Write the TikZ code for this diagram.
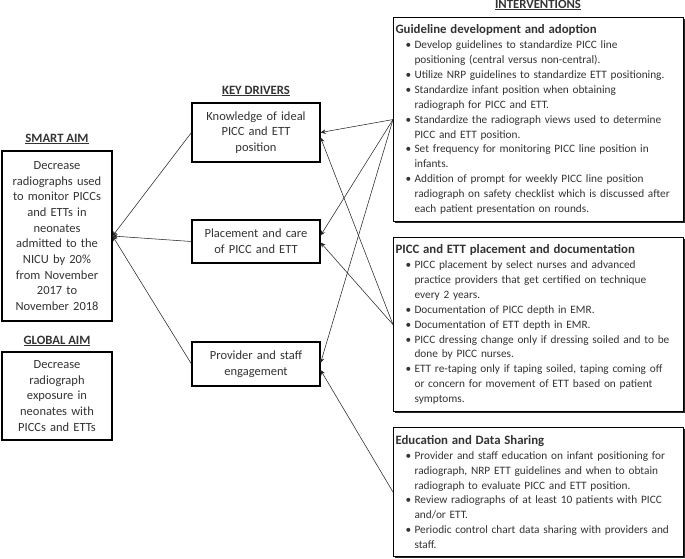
\documentclass[tikz,border=0pt]{standalone}
\usepackage{fontspec}
\setmainfont{Carlito}
\usetikzlibrary{shadows,calc,arrows.meta}
\newcommand{\bitem}[1]{\par\noindent\hangindent=19pt\hangafter=1\hspace*{10pt}\makebox[9pt][l]{\textbullet}#1}
\newcommand{\btitle}[1]{\noindent{\fontsize{12.8}{14.9}\selectfont\bfseries #1}}
\begin{document}
\begin{tikzpicture}[x=1pt,y=-1pt,
  box/.style={draw=black,line width=1.1pt,fill=white,text=black!80,
    drop shadow={shadow xshift=1.3pt,shadow yshift=-1.3pt,fill=black!85,opacity=1}},
  aimbox/.style={box,minimum width=110pt,text width=106pt,align=center,inner sep=0pt,
    font=\fontsize{12.5}{15.7}\selectfont},
  kdbox/.style={box,minimum width=128pt,text width=124pt,align=center,inner sep=0pt,
    font=\fontsize{12.5}{15.7}\selectfont},
  ivbox/.style={box,anchor=north west,text width=286pt,minimum width=290pt,inner xsep=2pt,inner ysep=6pt,
    font=\fontsize{11.3}{14.9}\selectfont},
  head/.style={text=black!80,font=\fontsize{12.7}{14}\selectfont\bfseries},
  conn/.style={draw=black!85,line width=0.55pt},
  arr/.style={conn,-{Stealth[length=5pt,width=4.5pt]}}]
\useasboundingbox (0,0) rectangle (685,558);

% headings
\node[head] (hsa) at (57,139) {\underline{SMART AIM}};
\node[head] (hga) at (57,341) {\underline{GLOBAL AIM}};
\node[head] (hkd) at (256,91) {\underline{KEY DRIVERS}};
\node[head] (hiv) at (538,5) {\underline{INTERVENTIONS}};

% aims
\node[aimbox,minimum height=170pt] (sa) at (57,236) {Decrease\\radiographs used\\to monitor PICCs\\and ETTs in\\neonates\\admitted to the\\NICU by 20\%\\from November\\2017 to\\November 2018};
\node[aimbox,minimum height=88pt] (ga) at (57,396) {Decrease\\radiograph\\exposure in\\neonates with\\PICCs and ETTs};

% key drivers
\node[kdbox,minimum height=59pt] (kd1) at (256,132.5) {Knowledge of ideal\\PICC and ETT\\position};
\node[kdbox,minimum height=43pt] (kd2) at (256,241.5) {Placement and care\\of PICC and ETT};
\node[kdbox,minimum height=44pt] (kd3) at (256,364) {Provider and staff\\engagement};

% interventions
\node[ivbox,minimum height=204pt] (g1) at (393,17) {\raggedright
\btitle{Guideline development and adoption}
\bitem{Develop guidelines to standardize PICC line\newline positioning (central versus non-central).}
\bitem{Utilize NRP guidelines to standardize ETT positioning.}
\bitem{Standardize infant position when obtaining\newline radiograph for PICC and ETT.}
\bitem{Standardize the radiograph views used to determine\newline PICC and ETT position.}
\bitem{Set frequency for monitoring PICC line position in\newline infants.}
\bitem{Addition of prompt for weekly PICC line position\newline radiograph on safety checklist which is discussed after\newline each patient presentation on rounds.}\par};

\node[ivbox,minimum height=174pt] (g2) at (393,237) {\raggedright
\btitle{PICC and ETT placement and documentation}
\bitem{PICC placement by select nurses and advanced\newline practice providers that get certified on technique\newline every 2 years.}
\bitem{Documentation of PICC depth in EMR.}
\bitem{Documentation of ETT depth in EMR.}
\bitem{PICC dressing change only if dressing soiled and to be\newline done by PICC nurses.}
\bitem{ETT re-taping only if taping soiled, taping coming off\newline or concern for movement of ETT based on patient\newline symptoms.}\par};

\node[ivbox,minimum height=129pt] (g3) at (393,427) {\raggedright
\btitle{Education and Data Sharing}
\bitem{Provider and staff education on infant positioning for\newline radiograph, NRP ETT guidelines and when to obtain\newline radiograph to evaluate PICC and ETT position.}
\bitem{Review radiographs of at least 10 patients with PICC\newline and/or ETT.}
\bitem{Periodic control chart data sharing with providers and\newline staff.}\par};

% drivers to smart aim
\draw[arr] (kd1.west) -- (sa.east);
\draw[arr] (kd2.west) -- (sa.east);
\draw[arr] (kd3.west) -- (sa.east);

% interventions to drivers
\draw[arr] (g1.west) -- (kd1.east);
\draw[arr] (g2.west) -- ($(kd1.east)+(0,5)$);
\draw[arr] (g1.west) -- ($(kd2.east)+(0,-6)$);
\draw[arr] (g2.west) -- ($(kd2.east)+(0,1)$);
\draw[arr] (g1.west) -- ($(kd3.east)+(0,-1)$);
\draw[arr] (g3.west) -- ($(kd3.east)+(0,6)$);
\end{tikzpicture}
\end{document}
